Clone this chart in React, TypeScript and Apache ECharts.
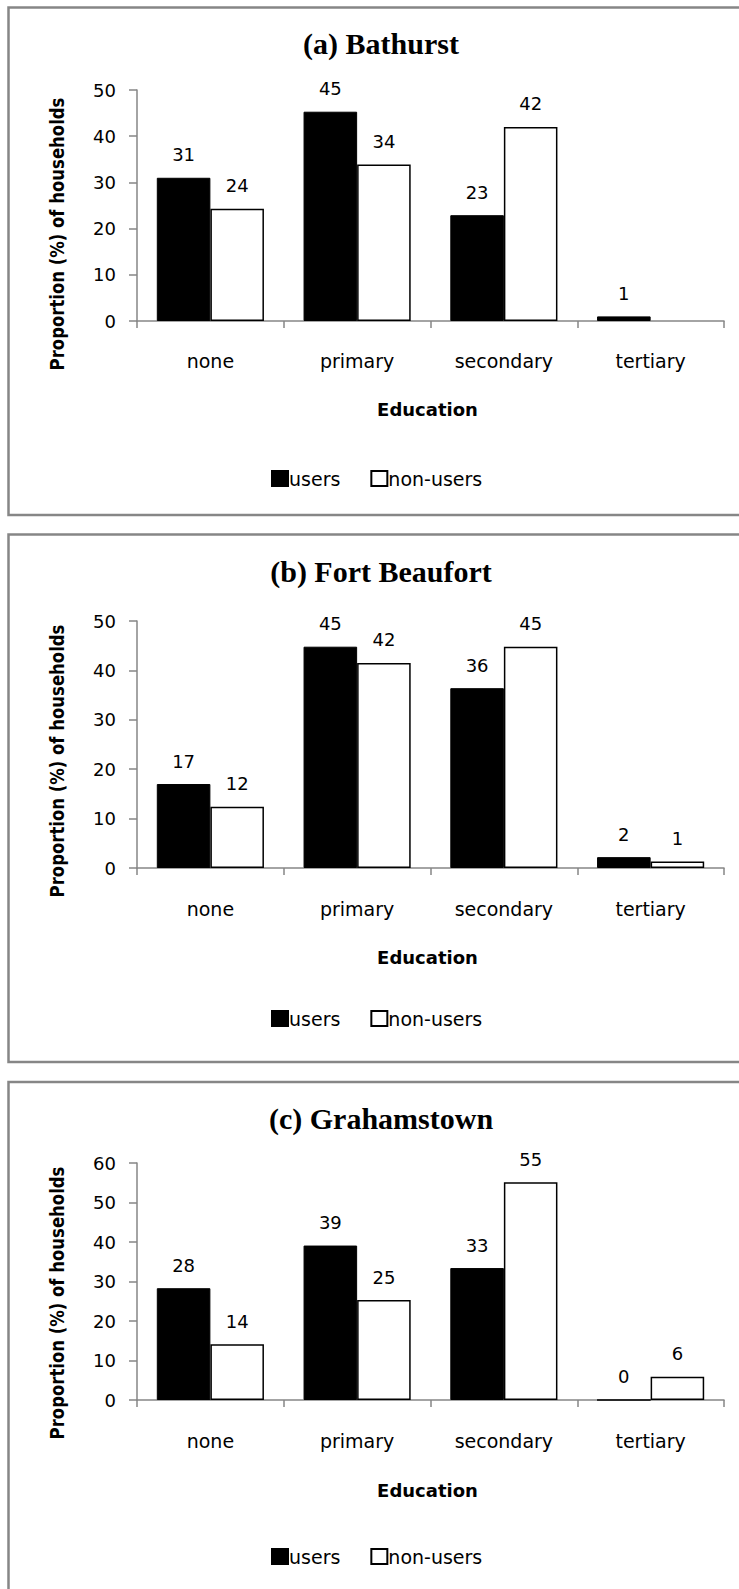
import React, { useEffect, useRef } from "react";
import * as echarts from "echarts";

const categories = ["none", "primary", "secondary", "tertiary"];
const seriesNames = ["users", "non-users"];

const bathurstUsers = [31, 45.3, 22.9, 1];
const bathurstNonUsers = [24.3, 33.9, 42, null];
const fortUsers = [17, 44.8, 36.4, 2.2];
const fortNonUsers = [12.4, 41.5, 44.8, 1.3];
const grahamUsers = [28.3, 39.1, 33.4, 0];
const grahamNonUsers = [14.1, 25.3, 55.1, 5.9];

const panelTitles = ["(a) Bathurst", "(b) Fort Beaufort", "(c) Grahamstown"];
const yMaxes = [50, 50, 60];
const yInterval = 10;
const xAxisTitle = "Education";
const yAxisTitle = "Proportion (%) of households";

const FONT = "'DejaVu Sans', 'Noto Sans', sans-serif";
const SERIF = "'Liberation Serif', 'DejaVu Serif', serif";
const GREY = "#868686";

const panels = [
  { users: bathurstUsers, nonUsers: bathurstNonUsers, boxTop: 7.5, boxBottom: 515, titleY: 47, top: 90, bottom: 321, catY: 362, eduY: 409, legendY: 478, yLabelY: 234 },
  { users: fortUsers, nonUsers: fortNonUsers, boxTop: 534.5, boxBottom: 1062, titleY: 575, top: 621, bottom: 868, catY: 910, eduY: 957, legendY: 1018, yLabelY: 761 },
  { users: grahamUsers, nonUsers: grahamNonUsers, boxTop: 1082, boxBottom: 1620, titleY: 1122, top: 1163, bottom: 1400, catY: 1442, eduY: 1490, legendY: 1556, yLabelY: 1303 },
];

const GRID_LEFT = 137;
const GRID_WIDTH = 587;
const TITLE_X = 381;

export default function App() {
  const ref = useRef<HTMLDivElement>(null);
  useEffect(() => {
    if (!ref.current) return;
    const chart = echarts.init(ref.current, null, { renderer: "svg" });
    const grids: any[] = [];
    const xAxes: any[] = [];
    const yAxes: any[] = [];
    const series: any[] = [];
    const titles: any[] = [];
    const legends: any[] = [];
    const graphics: any[] = [];

    panels.forEach((p, i) => {
      const h = p.bottom - p.top;
      grids.push({ left: GRID_LEFT, width: GRID_WIDTH, top: p.top, height: h, containLabel: false });
      xAxes.push({
        type: "category",
        gridIndex: i,
        data: categories,
        axisLine: { lineStyle: { color: GREY, width: 1.5 } },
        axisTick: { show: true, alignWithLabel: false, length: 7, lineStyle: { color: GREY, width: 1.5 } },
        axisLabel: { color: "#000", fontFamily: FONT, fontSize: 19, margin: p.catY - p.bottom - 11 },
        splitLine: { show: false },
      });
      yAxes.push({
        type: "value",
        gridIndex: i,
        min: 0,
        max: yMaxes[i],
        interval: yInterval,
        axisLine: { show: true, lineStyle: { color: GREY, width: 1.5 } },
        axisTick: { show: true, length: 8, lineStyle: { color: GREY, width: 1.5 } },
        axisLabel: { color: "#000", fontFamily: FONT, fontSize: 18, margin: 21 },
        splitLine: { show: false },
      });
      const labelCfg = {
        show: true,
        position: "top",
        distance: 14,
        color: "#000",
        fontFamily: FONT,
        fontSize: 18,
        formatter: (d: any) => (d.value == null ? "" : String(Math.round(d.value))),
      };
      series.push({
        name: seriesNames[0],
        type: "bar",
        xAxisIndex: i,
        yAxisIndex: i,
        data: p.users,
        barGap: "0%",
        barCategoryGap: "27%",
        itemStyle: { color: "#000", borderColor: "#000", borderWidth: 1 },
        label: labelCfg,
      });
      series.push({
        name: seriesNames[1],
        type: "bar",
        xAxisIndex: i,
        yAxisIndex: i,
        data: p.nonUsers,
        barGap: "0%",
        barCategoryGap: "27%",
        itemStyle: { color: "#fff", borderColor: "#000", borderWidth: 1.5 },
        label: labelCfg,
      });
      titles.push({
        text: panelTitles[i],
        left: TITLE_X,
        textAlign: "center",
        top: p.titleY - 19,
        padding: 0,
        textStyle: { fontFamily: SERIF, fontWeight: "bold", fontSize: 30, color: "#000" },
      });
      legends.push({
        data: seriesNames.map((n) => ({ name: n })),
        left: 271,
        top: p.legendY - 9,
        orient: "horizontal",
        padding: 0,
        itemWidth: 16,
        itemHeight: 15,
        itemGap: 30,
        icon: "rect",
        textStyle: { fontFamily: FONT, fontSize: 19, color: "#000", padding: [0, 0, 0, -4] },
        selectedMode: false,
      });
      graphics.push({
        type: "rect",
        shape: { x: 8.5, y: p.boxTop, width: 760, height: p.boxBottom - p.boxTop },
        style: { fill: "none", stroke: GREY, lineWidth: 2.5 },
        silent: true,
      });
      graphics.push({
        type: "text",
        x: 57,
        y: p.yLabelY,
        rotation: Math.PI / 2,
        scaleY: 1.15,
        style: { text: yAxisTitle, fontFamily: FONT, fontWeight: "bold", fontSize: 16.5, fill: "#000", textAlign: "center", textVerticalAlign: "middle" },
      });
      graphics.push({
        type: "text",
        x: GRID_LEFT + GRID_WIDTH / 2 - 3,
        y: p.eduY,
        style: { text: xAxisTitle, fontFamily: FONT, fontWeight: "bold", fontSize: 18, fill: "#000", textAlign: "center", textVerticalAlign: "middle" },
      });
    });

    chart.setOption({
      animation: false,
      backgroundColor: "#fff",
      title: titles,
      legend: legends,
      grid: grids,
      xAxis: xAxes,
      yAxis: yAxes,
      series,
      graphic: graphics,
    });
    return () => chart.dispose();
  }, []);
  return <div ref={ref} style={{ position: "absolute", left: 0, top: 0, width: 739, height: 1589, background: "#fff" }} />;
}
